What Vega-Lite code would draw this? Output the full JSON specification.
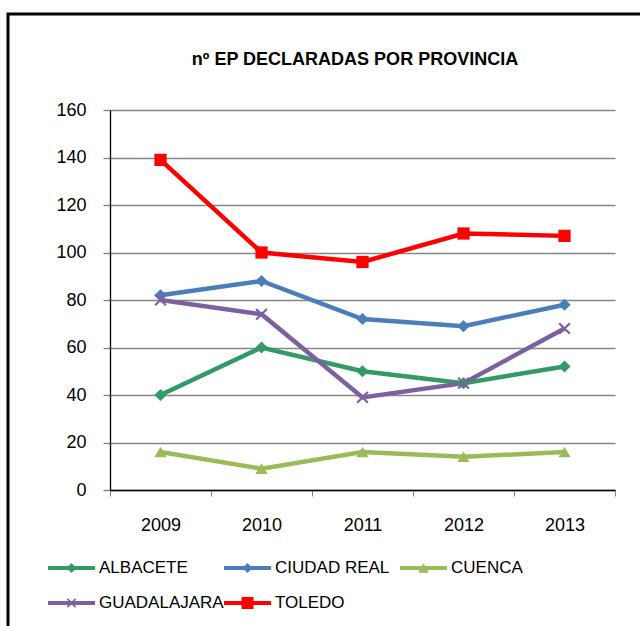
{
  "$schema": "https://vega.github.io/schema/vega-lite/v6.json",
  "width": 640,
  "height": 640,
  "autosize": {"type": "none"},
  "padding": {"left": 8, "top": 14, "right": 0, "bottom": 0},
  "background": "white",
  "title": {
    "text": "nº EP DECLARADAS POR PROVINCIA",
    "anchor": "middle",
    "frame": "group",
    "offset": -55,
    "dx": 27,
    "font": "Liberation Sans, Arial, sans-serif",
    "fontSize": 18,
    "fontWeight": "bold",
    "color": "black"
  },
  "config": {
    "view": {"stroke": "black", "strokeWidth": 3},
    "font": "Liberation Sans, Arial, sans-serif"
  },
  "data": {
    "values": [
      {"prov": "ALBACETE", "year": "2009", "value": 40},
      {"prov": "ALBACETE", "year": "2010", "value": 60},
      {"prov": "ALBACETE", "year": "2011", "value": 50},
      {"prov": "ALBACETE", "year": "2012", "value": 45},
      {"prov": "ALBACETE", "year": "2013", "value": 52},
      {"prov": "CIUDAD REAL", "year": "2009", "value": 82},
      {"prov": "CIUDAD REAL", "year": "2010", "value": 88},
      {"prov": "CIUDAD REAL", "year": "2011", "value": 72},
      {"prov": "CIUDAD REAL", "year": "2012", "value": 69},
      {"prov": "CIUDAD REAL", "year": "2013", "value": 78},
      {"prov": "CUENCA", "year": "2009", "value": 16},
      {"prov": "CUENCA", "year": "2010", "value": 9},
      {"prov": "CUENCA", "year": "2011", "value": 16},
      {"prov": "CUENCA", "year": "2012", "value": 14},
      {"prov": "CUENCA", "year": "2013", "value": 16},
      {"prov": "GUADALAJARA", "year": "2009", "value": 80},
      {"prov": "GUADALAJARA", "year": "2010", "value": 74},
      {"prov": "GUADALAJARA", "year": "2011", "value": 39},
      {"prov": "GUADALAJARA", "year": "2012", "value": 45},
      {"prov": "GUADALAJARA", "year": "2013", "value": 68},
      {"prov": "TOLEDO", "year": "2009", "value": 139},
      {"prov": "TOLEDO", "year": "2010", "value": 100},
      {"prov": "TOLEDO", "year": "2011", "value": 96},
      {"prov": "TOLEDO", "year": "2012", "value": 108},
      {"prov": "TOLEDO", "year": "2013", "value": 107}
    ]
  },
  "encoding": {
    "x": {
      "field": "year",
      "type": "ordinal",
      "scale": {"type": "band", "range": [102, 607], "paddingInner": 0, "paddingOuter": 0},
      "axis": {
        "title": null,
        "orient": "bottom",
        "offset": -164,
        "labelAngle": 0,
        "domainColor": "black",
        "domainWidth": 1.3,
        "ticks": true,
        "tickBand": "extent",
        "tickColor": "#808080",
        "tickSize": 6,
        "tickWidth": 1,
        "labelFontSize": 18,
        "labelColor": "black",
        "labelPadding": 20,
        "grid": false
      }
    },
    "y": {
      "field": "value",
      "type": "quantitative",
      "scale": {"domain": [0, 160], "range": [476, 96], "nice": false},
      "axis": {
        "title": null,
        "offset": -102,
        "values": [0, 20, 40, 60, 80, 100, 120, 140, 160],
        "grid": true,
        "gridColor": "#868686",
        "gridWidth": 1.5,
        "domainColor": "black",
        "domainWidth": 1.3,
        "tickColor": "#808080",
        "tickSize": 7,
        "tickWidth": 1.3,
        "labelFontSize": 18,
        "labelColor": "black",
        "labelPadding": 17
      }
    }
  },
  "layer": [
    {
      "mark": {"type": "line", "strokeWidth": 4.5, "clip": false},
      "encoding": {
        "stroke": {
          "field": "prov",
          "type": "nominal",
          "scale": {
            "domain": ["ALBACETE", "CIUDAD REAL", "CUENCA", "GUADALAJARA", "TOLEDO"],
            "range": ["#339966", "#4a7ebb", "#9bbb59", "#7d60a0", "#ff0000"]
          },
          "legend": null
        }
      }
    },
    {
      "mark": {"type": "point", "filled": true, "opacity": 1, "size": 150, "clip": false},
      "encoding": {
        "fill": {
          "field": "prov",
          "type": "nominal",
          "scale": {"range": ["#339966", "#4a7ebb", "#9bbb59", "#7d60a0", "#ff0000"]},
          "legend": {
            "orient": "none",
            "legendX": 40,
            "legendY": 544,
            "direction": "horizontal",
            "columns": 3,
            "title": null,
            "symbolSize": 2209,
            "symbolStrokeWidth": 0,
            "symbolOpacity": 1,
            "labelOffset": 4,
            "labelFontSize": 17,
            "labelColor": "black",
            "labelLimit": 300,
            "clipHeight": 20,
            "rowPadding": 15,
            "columnPadding": 0,
            "gridAlign": "all",
            "padding": 0,
            "encode": {
              "symbols": {
                "update": {
                  "shape": {
                    "signal": "datum.value === 'TOLEDO' ? 'M-1,-0.085L1,-0.085L1,0.085L-1,0.085ZM-0.255,-0.255L0.255,-0.255L0.255,0.255L-0.255,0.255Z' : datum.value === 'CUENCA' ? 'M-1,-0.085L1,-0.085L1,0.085L-1,0.085ZM-0.234,0.2L0,-0.2L0.234,0.2Z' : datum.value === 'GUADALAJARA' ? 'M-1,-0.085L1,-0.085L1,0.085L-1,0.085ZM-0.15,-0.2L0.2,0.15L0.15,0.2L-0.2,-0.15ZM0.15,-0.2L0.2,-0.15L-0.15,0.2L-0.2,0.15Z' : 'M-1,-0.085L1,-0.085L1,0.085L-1,0.085ZM-0.21,0L0,-0.21L0.21,0L0,0.21Z'"
                  }
                }
              }
            }
          }
        },
        "shape": {
          "field": "prov",
          "type": "nominal",
          "scale": {
            "domain": ["ALBACETE", "CIUDAD REAL", "CUENCA", "GUADALAJARA", "TOLEDO"],
            "range": ["diamond", "diamond", "triangle-up", "M-0.75,-1L1,0.75L0.75,1L-1,-0.75ZM0.75,-1L1,-0.75L-0.75,1L-1,0.75Z", "square"]
          },
          "legend": null
        }
      }
    }
  ]
}
